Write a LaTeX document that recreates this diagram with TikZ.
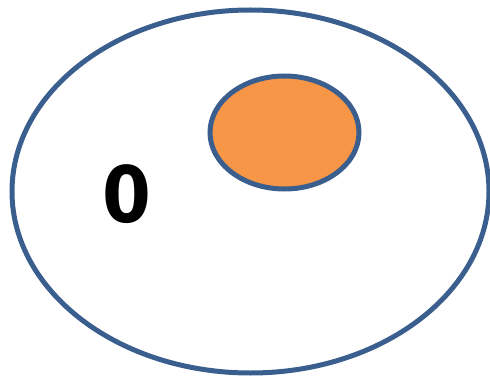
\documentclass[tikz,border=0pt]{standalone}
\usepackage{fontspec}
\setmainfont{DejaVu Sans}
\usetikzlibrary{shapes.geometric}
\definecolor{edge}{HTML}{3A5F8F}
\definecolor{fillor}{HTML}{F79646}
\tikzset{blob/.style={draw=edge,line width=5pt,ellipse,inner sep=0pt}}
\begin{document}
\begin{tikzpicture}[x=1pt,y=-1pt]
\useasboundingbox (0,0) rectangle (490,377);
\node[blob,minimum width=477pt,minimum height=363pt] (outer) at (250.5,191.5) {};
\node[blob,fill=fillor,minimum width=149pt,minimum height=113pt] (inner) at (284.5,132.5) {};
\node[font=\bfseries\fontsize{78}{78}\selectfont,inner sep=0pt] (zero) at (126.5,194) {\scalebox{0.9}[1]{0}};
\end{tikzpicture}
\end{document}
